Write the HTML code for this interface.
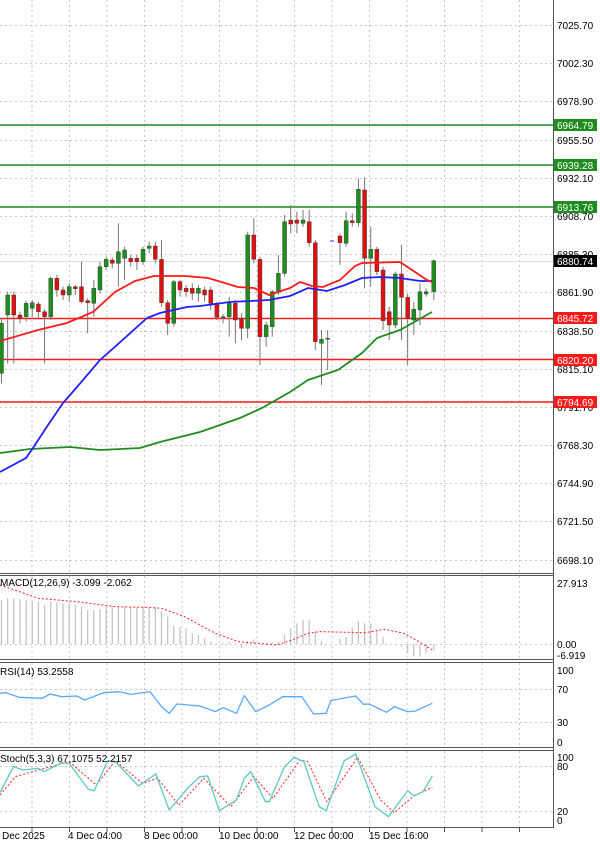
<!DOCTYPE html>
<html><head><meta charset="utf-8"><style>
html,body{margin:0;padding:0;background:#fff;}
svg{display:block;}
text{font-family:"Liberation Sans",sans-serif;font-size:10px;fill:#000;}
</style></head><body>
<svg id="s" width="600" height="846" viewBox="0 0 600 846" xmlns="http://www.w3.org/2000/svg">
<rect width="600" height="846" fill="#fff"/>
<g id="grid" stroke="#c8c8c8" stroke-dasharray="2,3" stroke-width="1"></g>
<g id="lv"></g>
<g id="cd"></g>
<g id="ma"></g>
<g id="ind"></g>
<!-- frames -->
<g stroke="#555" fill="none" stroke-width="1">
<line x1="553.5" y1="0" x2="553.5" y2="828"/>
<line x1="0" y1="573.5" x2="553" y2="573.5"/><line x1="0" y1="575.5" x2="553" y2="575.5"/>
<line x1="0" y1="659.5" x2="553" y2="659.5"/><line x1="0" y1="662.5" x2="553" y2="662.5"/>
<line x1="0" y1="747.5" x2="553" y2="747.5"/><line x1="0" y1="750.5" x2="553" y2="750.5"/>
<line x1="0" y1="827.5" x2="553" y2="827.5"/>
</g>
<g id="ticks" stroke="#555"></g>
<!-- right axis labels -->
<g>
<text x="557" y="29">7025.70</text>
<text x="557" y="67">7002.30</text>
<text x="557" y="105">6978.90</text>
<text x="557" y="144">6955.50</text>
<text x="557" y="182">6932.10</text>
<text x="557" y="220">6908.70</text>
<text x="557" y="258">6885.30</text>
<text x="557" y="296">6861.90</text>
<text x="557" y="335">6838.50</text>
<text x="557" y="373">6815.10</text>
<text x="557" y="411">6791.70</text>
<text x="557" y="449">6768.30</text>
<text x="557" y="487">6744.90</text>
<text x="557" y="525">6721.50</text>
<text x="557" y="564">6698.10</text>
</g>
<g>
<rect x="554" y="119" width="43" height="12" fill="#1e8c1e"/><text x="557" y="129" fill="#fff" style="fill:#fff">6964.79</text>
<rect x="554" y="159" width="43" height="12" fill="#1e8c1e"/><text x="557" y="169" style="fill:#fff">6939.28</text>
<rect x="554" y="201" width="43" height="12" fill="#1e8c1e"/><text x="557" y="211" style="fill:#fff">6913.76</text>
<rect x="554" y="255" width="43" height="12" fill="#000"/><text x="557" y="265" style="fill:#fff">6880.74</text>
<rect x="554" y="312" width="43" height="12" fill="#ff1a1a"/><text x="557" y="322" style="fill:#fff">6845.72</text>
<rect x="554" y="354" width="43" height="12" fill="#ff1a1a"/><text x="557" y="364" style="fill:#fff">6820.20</text>
<rect x="554" y="396" width="43" height="12" fill="#ff1a1a"/><text x="557" y="406" style="fill:#fff">6794.69</text>
</g>
<text x="557" y="587">27.913</text>
<text x="557" y="648">0.00</text>
<text x="557" y="659">-6.919</text>
<text x="557" y="674">100</text>
<text x="557" y="693">70</text>
<text x="557" y="726">30</text>
<text x="557" y="746">0</text>
<text x="557" y="761">100</text>
<text x="557" y="770">80</text>
<text x="557" y="815">20</text>
<text x="557" y="824">0</text>
<text x="0" y="586">MACD(12,26,9) -3.099 -2.062</text>
<text x="0" y="675">RSI(14) 53.2558</text>
<text x="0" y="762">Stoch(5,3,3) 67.1075 52.2157</text>
<text x="2" y="839">Dec 2025</text>
<text x="68" y="839">4 Dec 04:00</text>
<text x="144" y="839">8 Dec 00:00</text>
<text x="219" y="839">10 Dec 00:00</text>
<text x="294" y="839">12 Dec 00:00</text>
<text x="369" y="839">15 Dec 16:00</text>
</svg>
<script>
var NS="http://www.w3.org/2000/svg";
function el(p,t,a){var e=document.createElementNS(NS,t);for(var k in a)e.setAttribute(k,a[k]);document.getElementById(p).appendChild(e);return e;}
// grid
var gx=[32,69.5,107,144.5,182,219.5,257,294.5,332,369.5,407,444.5,482,519.5];
gx.forEach(function(x){el("grid","line",{x1:x,y1:0,x2:x,y2:573});el("grid","line",{x1:x,y1:576,x2:x,y2:659});el("grid","line",{x1:x,y1:663,x2:x,y2:747});el("grid","line",{x1:x,y1:751,x2:x,y2:827});el("ticks","line",{x1:x,y1:828,x2:x,y2:832});});
[25,63,101,140,178,216,254,292,331,369,407,445,483,521,560].forEach(function(y){el("grid","line",{x1:0,y1:y+.5,x2:553,y2:y+.5});});
[644,689,722,766,811].forEach(function(y){el("grid","line",{x1:0,y1:y+.5,x2:553,y2:y+.5});});
// levels
[[125,"#1e8c1e"],[165,"#1e8c1e"],[207,"#1e8c1e"],[318.5,"#ff1a1a"],[359.5,"#ff1a1a"],[402,"#ff1a1a"]].forEach(function(l){el("lv","line",{x1:0,y1:l[0],x2:553,y2:l[0],stroke:l[1],"stroke-width":1.6});});
el("lv","line",{x1:0,y1:261.5,x2:553,y2:261.5,stroke:"#ddd","stroke-width":1});
// candles: [zx, top, bottom, color(g/r), hi, lo] in zoom coords
var C=[[0,460,610,"g",445,640],[16,375,435,"g",365,580],[32,375,435,"r",365,580],[48,435,445,"r",425,460],[64,400,440,"g",392,455],[80,398,415,"g",390,440],[96,402,425,"r",395,445],[112,425,440,"r",418,580],[128,325,440,"g",320,450],[144,325,360,"r",315,380],[160,360,375,"r",350,390],[176,350,375,"g",340,395],[192,350,356,"r",345,375],[208,350,395,"r",275,400],[224,392,398,"r",385,490],[240,355,400,"g",330,440],[256,290,360,"g",275,370],[272,268,290,"g",260,300],[288,270,280,"r",262,295],[304,245,280,"g",160,350],[320,240,265,"g",230,330],[336,265,275,"r",255,290],[352,265,275,"r",255,300],[368,238,275,"g",230,285],[384,228,235,"g",215,250],[400,228,268,"r",215,280],[416,268,398,"r",210,410],[432,398,460,"r",390,495],[448,335,460,"g",330,470],[464,335,360,"r",330,380],[480,355,365,"r",345,380],[496,355,370,"r",340,390],[512,355,370,"g",345,395],[528,360,375,"r",350,395],[544,360,400,"r",350,420],[560,400,442,"r",395,450],[576,440,442,"g",432,460],[592,400,440,"g",380,500],[608,400,450,"r",390,520],[624,445,475,"r",430,510],[640,195,475,"g",185,505],[656,195,268,"r",145,280],[672,268,500,"r",260,585],[688,465,500,"g",455,530],[704,365,470,"g",360,500],[720,310,365,"g",255,375],[736,155,310,"g",135,320],[752,150,162,"r",105,190],[768,150,160,"r",125,190],[784,150,160,"g",120,170],[800,155,218,"r",120,230],[816,218,515,"r",210,540],[832,508,520,"g",480,645],[848,505,507,"g",480,600],[880,198,218,"r",190,285],[896,152,220,"g",125,230],[912,152,158,"r",130,170],[928,58,158,"g",25,170],[944,60,265,"r",22,355],[960,238,265,"g",170,350],[976,238,305,"r",230,315],[992,300,452,"r",290,480],[1008,425,465,"r",410,510],[1024,312,465,"g",305,475],[1040,312,382,"r",225,510],[1056,382,445,"r",370,585],[1072,418,450,"g",395,495],[1088,365,420,"g",340,465],[1104,365,372,"g",355,380],[1124,272,365,"g",268,390]];
C.forEach(function(c){var x=c[0]/2.6+1.5,t=170+c[1]/3,b=170+c[2]/3,h=170+c[4]/3,l=170+c[5]/3;
el("cd","line",{x1:x,y1:h,x2:x,y2:l,stroke:"#777","stroke-width":1});
el("cd","rect",{x:x-2,y:t,width:4,height:Math.max(1,b-t),fill:c[3]=="g"?"#1e8c1e":"#e01010",stroke:"#333","stroke-width":0.4});});
el("cd","line",{x1:330,y1:241,x2:334,y2:241,stroke:"#3030ff","stroke-width":1});
function pl(p,pts,col,w,dash){var a={points:pts.map(function(q){return q[0]+","+q[1]}).join(" "),fill:"none",stroke:col,"stroke-width":w};if(dash)a["stroke-dasharray"]=dash;el(p,"polyline",a);}
function zc(pts,oy){return pts.map(function(q){return [q[0]/2.6,oy+q[1]/3]});}
pl("ma",[[0,453],[30,449],[70,447],[100,450],[140,448],[160,442],[200,432],[240,418],[262,408],[290,392],[308,380],[338,370],[362,353],[377,338],[400,330],[432,312]],"#1e8c1e",1.8);
pl("ma",[[0,472],[26,458],[33,448],[48,425],[63,403],[77,387],[100,360],[117,345],[147,318],[160,313],[187,307],[200,306],[230,302],[269,300],[290,296],[308,288],[327,291],[345,285],[362,278],[380,277],[400,278],[420,281],[432,281]],"#2020ff",1.8);
pl("ma",[[0,341],[38,330],[67,323],[93,312],[115,292],[135,281],[154,276],[185,276],[208,278],[238,287],[254,288],[269,295],[290,288],[300,282],[312,286],[323,287],[340,280],[355,266],[362,263],[400,262],[412,270],[427,280],[432,282]],"#ff1a1a",1.8);
// MACD hist
var H=[[0,90],[16,85],[32,85],[48,88],[64,90],[80,92],[96,95],[112,105],[128,95],[144,97],[160,100],[176,100],[192,105],[208,110],[224,120],[240,120],[256,118],[272,112],[288,108],[304,110],[320,110],[336,112],[352,112],[368,112],[384,112],[400,112],[416,125],[432,140],[448,168],[464,170],[480,175],[496,190],[512,195],[528,205],[544,215],[560,220],[576,218],[592,215],[608,225],[624,235],[640,215],[656,208],[672,222],[688,220],[704,218],[720,215],[736,195],[752,175],[768,160],[784,150],[800,150],[816,185],[832,212],[848,222],[880,205],[896,200],[912,172],[928,152],[944,160],[960,160],[976,180],[992,200],[1040,230],[1056,250],[1072,258],[1088,260],[1104,248],[1124,240]];
H.forEach(function(h){var x=h[0]/2.6+1.5,y=570+h[1]/3;el("ind","line",{x1:x,y1:644,x2:x,y2:y,stroke:"#c0c0c0","stroke-width":1.2});});
pl("ind",zc([[0,45],[100,85],[200,95],[300,110],[380,112],[420,115],[480,140],[560,190],[620,215],[720,225],[760,210],[800,190],[830,185],[950,188],[1000,178],[1050,190],[1090,215],[1124,240]],570),"#ff2020",1,"2,2");
// RSI
pl("ind",zc([[0,370],[15,368],[50,382],[110,385],[130,372],[160,380],[200,378],[220,390],[270,368],[310,365],[340,373],[390,365],[420,410],[440,430],[460,402],[520,408],[560,425],[580,413],[615,430],[635,377],[665,425],[700,405],[735,380],[785,380],[815,432],[848,430],[860,392],[890,385],[925,378],[945,403],[960,402],[1005,427],[1025,410],[1060,425],[1080,423],[1124,400]],570),"#5aa8ff",1.3);
// Stoch
pl("ind",zc([[0,675],[40,620],[100,600],[180,575],[250,645],[300,572],[370,640],[410,625],[465,705],[530,625],[600,710],[660,620],[710,685],[780,570],[800,575],[850,695],[930,562],[990,690],[1025,728],[1075,678],[1124,652]],570),"#ff2020",1,"2,2");
pl("ind",zc([[0,668],[35,590],[60,600],[100,595],[115,605],[160,578],[180,580],[230,658],[245,662],[280,572],[300,575],[360,648],[405,612],[440,720],[490,652],[520,620],[540,618],[570,722],[615,690],[635,625],[652,605],[690,695],[700,695],[740,590],[765,562],[790,575],[830,710],[848,722],[895,572],[925,552],[975,710],[1010,740],[1060,662],[1075,678],[1100,665],[1124,618]],570),"#5cc8c8",1.3);
</script>
</body></html>
